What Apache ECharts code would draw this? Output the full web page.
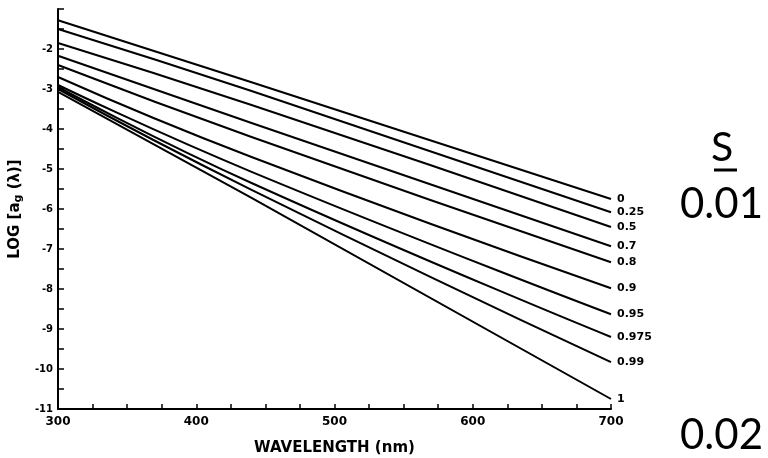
<!DOCTYPE html>
<html>
<head>
<meta charset="utf-8">
<script src="https://cdn.jsdelivr.net/npm/echarts@6/dist/echarts.min.js"></script>
<style>
html,body{margin:0;padding:0;background:#fff;}
#chart{width:768px;height:458px;}
</style>
</head>
<body>
<div id="chart"></div>
<script>
const wavelengths = [300, 440, 700];
const sLabels = ['0', '0.25', '0.5', '0.7', '0.8', '0.9', '0.95', '0.975', '0.99', '1'];
const vals300 = [-1.28, -1.5, -1.85, -2.17, -2.4, -2.7, -2.9, -2.95, -3.0, -3.07];
const vals440 = [-2.83, -3.05, -3.40, -3.85, -4.20, -4.70, -5.07, -5.35, -5.52, -5.72];
const vals700 = [-5.75, -6.08, -6.45, -6.93, -7.33, -7.98, -8.63, -9.2, -9.83, -10.75];
const xTicks = [300, 400, 500, 600, 700];
const yTicks = [-2, -3, -4, -5, -6, -7, -8, -9, -10, -11];
const sideTitle = 'S';
const sideValues = ['0.01', '0.02'];

const chart = echarts.init(document.getElementById('chart'), null, {renderer: 'canvas'});
const F = 'DejaVu Sans';
const series = sLabels.map((name, i) => ({
  name: name,
  type: 'line',
  data: [[wavelengths[0], vals300[i]], [wavelengths[1], vals440[i]], [wavelengths[2], vals700[i]]],
  symbol: 'none',
  smooth: (i === 0 || i === sLabels.length - 1) ? false : 0.5,
  lineStyle: {color: '#000', width: 2},
  endLabel: {
    show: true,
    formatter: name,
    distance: 6,
    color: '#000',
    fontFamily: F,
    fontWeight: 'bold',
    fontSize: 11
  },
  silent: true,
  animation: false
}));

chart.setOption({
  animation: false,
  backgroundColor: '#fff',
  grid: {left: 58, right: 157, top: 9, bottom: 49, containLabel: false, outerBoundsMode: 'none'},
  xAxis: {
    type: 'value',
    min: 300, max: 700, interval: 100,
    name: 'WAVELENGTH (nm)',
    nameLocation: 'middle',
    nameGap: 32,
    nameTextStyle: {color: '#000', fontFamily: F, fontWeight: 'bold', fontSize: 15},
    axisLine: {show: true, lineStyle: {color: '#000', width: 2}},
    axisTick: {show: true, inside: true, length: 5, lineStyle: {color: '#000', width: 1.5}},
    minorTick: {show: true, splitNumber: 4, length: 5, lineStyle: {color: '#000', width: 1.5}},
    splitLine: {show: false},
    axisLabel: {
      color: '#000', fontFamily: F, fontWeight: 'bold', fontSize: 12, margin: 7,
      formatter: v => xTicks.includes(v) ? String(v) : ''
    }
  },
  yAxis: {
    type: 'value',
    min: -11, max: -1, interval: 1,
    name: 'LOG [a{sub|g} (λ)]',
    nameLocation: 'middle',
    nameRotate: 90,
    nameGap: 30,
    nameTextStyle: {
      color: '#000', fontFamily: F, fontWeight: 'bold', fontSize: 15,
      rich: {sub: {fontFamily: F, fontWeight: 'bold', fontSize: 11, verticalAlign: 'bottom', padding: [7, 0, 0, 0], color: '#000'}}
    },
    axisLine: {show: true, onZero: false, lineStyle: {color: '#000', width: 2}},
    axisTick: {show: true, inside: true, length: 6, lineStyle: {color: '#000', width: 1.5}},
    minorTick: {show: true, splitNumber: 2, length: 6, lineStyle: {color: '#000', width: 1.5}},
    splitLine: {show: false},
    axisLabel: {
      color: '#000', fontFamily: F, fontWeight: 'bold', fontSize: 10, margin: 5,
      formatter: v => yTicks.includes(v) ? String(v) : ''
    }
  },
  graphic: [
    {type: 'text', left: 711, top: 127, style: {text: sideTitle, font: '41px Lato', fill: '#000'}},
    {type: 'line', shape: {x1: 714, y1: 170, x2: 737, y2: 170}, style: {stroke: '#000', lineWidth: 3}},
    {type: 'text', left: 680, top: 183, style: {text: sideValues[0], font: '42px Lato', fill: '#000'}},
    {type: 'text', left: 680, top: 414, style: {text: sideValues[1], font: '42px Lato', fill: '#000'}}
  ],
  series: series
});
</script>
</body>
</html>
